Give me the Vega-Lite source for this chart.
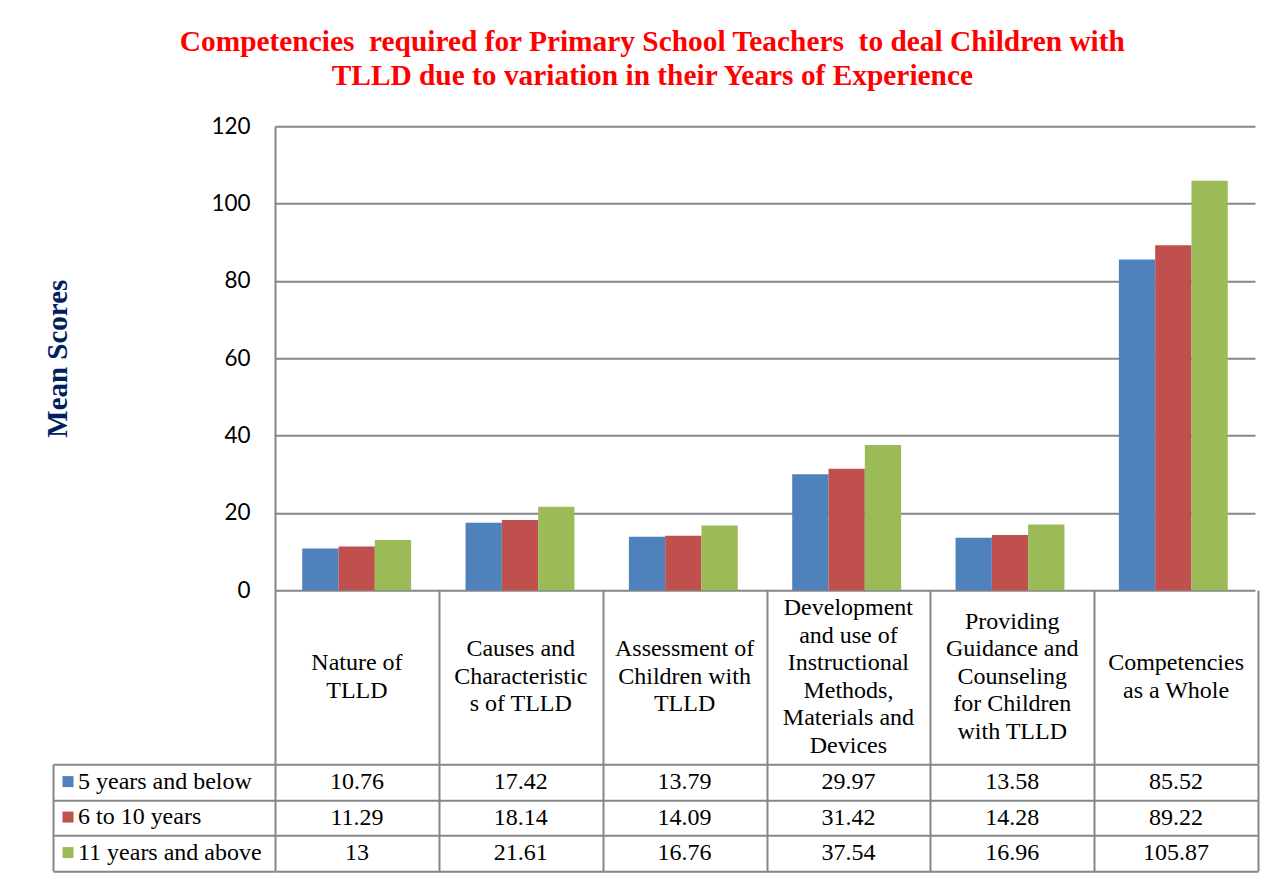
{
  "$schema": "https://vega.github.io/schema/vega-lite/v6.json",
  "padding": {"left": 43, "top": 26.2, "right": 5, "bottom": 5},
  "background": "white",
  "title": {
    "text": ["Competencies \u00a0required for Primary School Teachers \u00a0to deal Children with", "TLLD due to variation in their Years of Experience"],
    "font": "Liberation Serif", "fontSize": 29.4, "fontWeight": "bold", "color": "#FF0000",
    "lineHeight": 34, "anchor": "start", "align": "center", "dx": 608.5, "offset": 24
  },
  "datasets": {
    "scores": [
      {"category": "Nature of TLLD", "series": "5 years and below", "value": 10.76},
      {"category": "Causes and Characteristics of TLLD", "series": "5 years and below", "value": 17.42},
      {"category": "Assessment of Children with TLLD", "series": "5 years and below", "value": 13.79},
      {"category": "Development and use of Instructional Methods, Materials and Devices", "series": "5 years and below", "value": 29.97},
      {"category": "Providing Guidance and Counseling for Children with TLLD", "series": "5 years and below", "value": 13.58},
      {"category": "Competencies as a Whole", "series": "5 years and below", "value": 85.52},
      {"category": "Nature of TLLD", "series": "6 to 10 years", "value": 11.29},
      {"category": "Causes and Characteristics of TLLD", "series": "6 to 10 years", "value": 18.14},
      {"category": "Assessment of Children with TLLD", "series": "6 to 10 years", "value": 14.09},
      {"category": "Development and use of Instructional Methods, Materials and Devices", "series": "6 to 10 years", "value": 31.42},
      {"category": "Providing Guidance and Counseling for Children with TLLD", "series": "6 to 10 years", "value": 14.28},
      {"category": "Competencies as a Whole", "series": "6 to 10 years", "value": 89.22},
      {"category": "Nature of TLLD", "series": "11 years and above", "value": 13},
      {"category": "Causes and Characteristics of TLLD", "series": "11 years and above", "value": 21.61},
      {"category": "Assessment of Children with TLLD", "series": "11 years and above", "value": 16.76},
      {"category": "Development and use of Instructional Methods, Materials and Devices", "series": "11 years and above", "value": 37.54},
      {"category": "Providing Guidance and Counseling for Children with TLLD", "series": "11 years and above", "value": 16.96},
      {"category": "Competencies as a Whole", "series": "11 years and above", "value": 105.87}
    ],
    "headers": [
      {"category": "Nature of TLLD", "label": "Nature of\nTLLD"},
      {"category": "Causes and Characteristics of TLLD", "label": "Causes and\nCharacteristic\ns of TLLD"},
      {"category": "Assessment of Children with TLLD", "label": "Assessment of\nChildren with\nTLLD"},
      {"category": "Development and use of Instructional Methods, Materials and Devices", "label": "Development\nand use of\nInstructional\nMethods,\nMaterials and\nDevices"},
      {"category": "Providing Guidance and Counseling for Children with TLLD", "label": "Providing\nGuidance and\nCounseling\nfor Children\nwith TLLD"},
      {"category": "Competencies as a Whole", "label": "Competencies\nas a Whole"}
    ],
    "series": [
      {"series": "5 years and below"},
      {"series": "6 to 10 years"},
      {"series": "11 years and above"}
    ]
  },
  "columns": 2,
  "spacing": 0,
  "bounds": "flush",
  "concat": [
    {"width": 222, "height": 464, "data": {"values": []}, "mark": "text"},
    {
      "width": 980, "height": 464,
      "data": {"name": "scores"},
      "mark": {"type": "bar"},
      "encoding": {
        "x": {"field": "category", "type": "nominal",
          "sort": ["Nature of TLLD", "Causes and Characteristics of TLLD", "Assessment of Children with TLLD", "Development and use of Instructional Methods, Materials and Devices", "Providing Guidance and Counseling for Children with TLLD", "Competencies as a Whole"],
          "scale": {"paddingInner": 0, "paddingOuter": 0}, "axis": null},
        "xOffset": {"field": "series", "type": "nominal",
          "sort": ["5 years and below", "6 to 10 years", "11 years and above"],
          "scale": {"paddingInner": 0, "paddingOuter": 0.75}},
        "y": {"field": "value", "type": "quantitative",
          "scale": {"domain": [0, 120]},
          "axis": {"values": [0, 20, 40, 60, 80, 100, 120], "grid": true, "ticks": false, "domain": true,
            "labelFont": "Lato", "labelFontSize": 22.5, "labelColor": "black", "labelPadding": 25,
            "title": "Mean Scores", "titleFont": "Liberation Serif", "titleFontSize": 29, "titleFontWeight": "bold",
            "titleColor": "#002060", "titlePadding": 138}},
        "color": {"field": "series", "type": "nominal",
          "sort": ["5 years and below", "6 to 10 years", "11 years and above"],
          "scale": {"domain": ["5 years and below", "6 to 10 years", "11 years and above"], "range": ["#4F81BD", "#C0504D", "#9BBB59"]},
          "legend": {"orient": "none", "legendX": 3, "legendY": 643.4, "title": null, "direction": "vertical",
            "symbolType": "square", "symbolSize": 121, "symbolStrokeWidth": 0,
            "labelFont": "Liberation Serif", "labelFontSize": 24, "labelColor": "black", "labelOffset": -2,
            "labelLimit": 0, "rowPadding": 11.5, "padding": 0}}
      }
    },
    {"width": 222, "height": 173.6, "data": {"values": []}, "mark": "text"},
    {
      "width": 983, "height": 173.6,
      "data": {"name": "headers"},
      "encoding": {
        "x": {"field": "category", "type": "nominal",
          "sort": ["Nature of TLLD", "Causes and Characteristics of TLLD", "Assessment of Children with TLLD", "Development and use of Instructional Methods, Materials and Devices", "Providing Guidance and Counseling for Children with TLLD", "Competencies as a Whole"],
          "scale": {"paddingInner": 0, "paddingOuter": 0},
          "axis": {"orient": "bottom", "grid": true, "tickBand": "extent", "labels": false, "ticks": false, "domain": false, "title": null}},
        "text": {"field": "label", "type": "nominal"}
      },
      "layer": [
        {
          "transform": [{"filter": {"field": "category", "oneOf": ["Nature of TLLD", "Competencies as a Whole"]}}],
          "mark": {"type": "text", "lineBreak": "\n", "font": "Liberation Serif", "fontSize": 24, "lineHeight": 27.5,
            "align": "center", "baseline": "middle", "color": "black", "dy": -13.75}
        },
        {
          "transform": [{"filter": {"field": "category", "oneOf": ["Causes and Characteristics of TLLD", "Assessment of Children with TLLD"]}}],
          "mark": {"type": "text", "lineBreak": "\n", "font": "Liberation Serif", "fontSize": 24, "lineHeight": 27.5,
            "align": "center", "baseline": "middle", "color": "black", "dy": -27.5}
        },
        {
          "transform": [{"filter": {"field": "category", "oneOf": ["Providing Guidance and Counseling for Children with TLLD"]}}],
          "mark": {"type": "text", "lineBreak": "\n", "font": "Liberation Serif", "fontSize": 24, "lineHeight": 27.5,
            "align": "center", "baseline": "middle", "color": "black", "dy": -55}
        },
        {
          "transform": [{"filter": {"field": "category", "oneOf": ["Development and use of Instructional Methods, Materials and Devices"]}}],
          "mark": {"type": "text", "lineBreak": "\n", "font": "Liberation Serif", "fontSize": 24, "lineHeight": 27.5,
            "align": "center", "baseline": "middle", "color": "black", "dy": -68.75}
        }
      ]
    },
    {
      "width": 222, "height": 106.7,
      "data": {"name": "series"},
      "mark": {"type": "text"},
      "encoding": {
        "y": {"field": "series", "type": "nominal",
          "sort": ["5 years and below", "6 to 10 years", "11 years and above"],
          "scale": {"paddingInner": 0, "paddingOuter": 0},
          "axis": {"grid": true, "tickBand": "extent", "labels": false, "ticks": false, "domain": true, "title": null}},
        "text": {"value": ""}
      }
    },
    {
      "width": 983, "height": 106.7,
      "data": {"name": "scores"},
      "mark": {"type": "text", "font": "Liberation Serif", "fontSize": 24, "color": "black", "baseline": "middle", "align": "center"},
      "encoding": {
        "x": {"field": "category", "type": "nominal",
          "sort": ["Nature of TLLD", "Causes and Characteristics of TLLD", "Assessment of Children with TLLD", "Development and use of Instructional Methods, Materials and Devices", "Providing Guidance and Counseling for Children with TLLD", "Competencies as a Whole"],
          "scale": {"paddingInner": 0, "paddingOuter": 0},
          "axis": {"orient": "bottom", "grid": true, "tickBand": "extent", "labels": false, "ticks": false, "domain": false, "title": null}},
        "y": {"field": "series", "type": "nominal",
          "sort": ["5 years and below", "6 to 10 years", "11 years and above"],
          "scale": {"paddingInner": 0, "paddingOuter": 0},
          "axis": {"grid": true, "tickBand": "extent", "labels": false, "ticks": false, "domain": false, "title": null}},
        "text": {"field": "value", "type": "nominal"}
      }
    }
  ],
  "resolve": {
    "scale": {"x": "independent", "y": "independent", "color": "shared"},
    "axis": {"x": "independent", "y": "independent"},
    "legend": {"color": "shared"}
  },
  "config": {
    "view": {"stroke": null},
    "axis": {"gridColor": "#868686", "gridWidth": 2, "gridOpacity": 1, "domainColor": "#868686", "domainWidth": 2}
  }
}
